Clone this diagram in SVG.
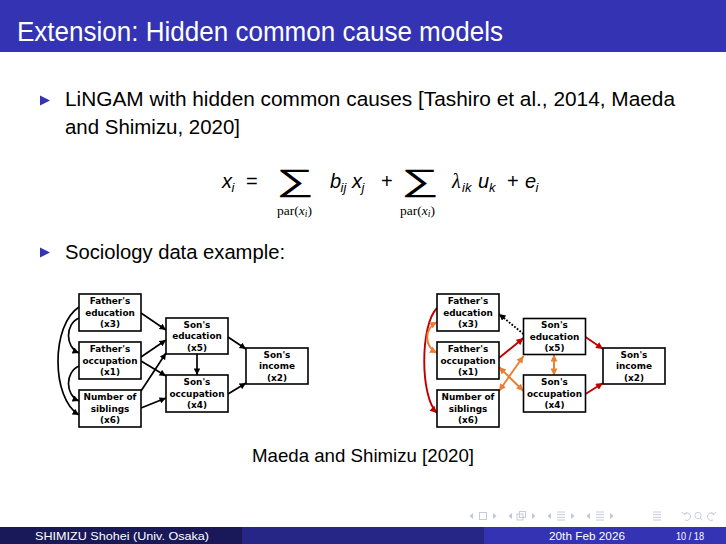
<svg xmlns="http://www.w3.org/2000/svg" width="726" height="544" viewBox="0 0 726 544">
<style>
.sans{font-family:"Liberation Sans","DejaVu Sans",sans-serif}
.ser{font-family:"Liberation Serif","DejaVu Serif",serif}
.node rect{fill:#fff;stroke:#000;stroke-width:1.6}
.node text{font-family:"DejaVu Sans","Liberation Sans",sans-serif;font-weight:bold;font-size:8.9px;text-anchor:middle;fill:#000}
.blk{fill:none;stroke:#000;stroke-width:1.7}
.red{fill:none;stroke:#C00000;stroke-width:1.9}
.org{fill:none;stroke:#ED7D31;stroke-width:1.9}
.nav{fill:none;stroke:#c4c4de;stroke-width:0.9}
.navf{fill:#c4c4de}
.sum{font-family:"DejaVu Sans",sans-serif;font-weight:200;font-size:31px}
</style>
<defs>
<marker id="ab" viewBox="0 0 10 10" refX="10" refY="5" markerWidth="7" markerHeight="6.5" orient="auto-start-reverse" markerUnits="userSpaceOnUse"><path d="M0,0L10,5L0,10z" fill="#000"/></marker>
<marker id="ar" viewBox="0 0 10 10" refX="10" refY="5" markerWidth="7.5" markerHeight="7" orient="auto-start-reverse" markerUnits="userSpaceOnUse"><path d="M0,0L10,5L0,10z" fill="#C00000"/></marker>
<marker id="ao" viewBox="0 0 10 10" refX="10" refY="5" markerWidth="7.5" markerHeight="7" orient="auto-start-reverse" markerUnits="userSpaceOnUse"><path d="M0,0L10,5L0,10z" fill="#ED7D31"/></marker>
</defs>
<rect x="0" y="0" width="726" height="544" fill="#fff"/>
<!-- title bar -->
<rect x="0" y="0" width="726" height="52" fill="#3333B3"/>
<text class="sans" x="17" y="41" font-size="27" fill="#fff" textLength="486" lengthAdjust="spacingAndGlyphs">Extension: Hidden common cause models</text>
<!-- bullets -->
<polygon points="40,95.5 50,100.5 40,105.5" fill="#3333B3"/>
<text class="sans" x="65" y="106" font-size="20.5" fill="#000" textLength="610" lengthAdjust="spacingAndGlyphs">LiNGAM with hidden common causes [Tashiro et al., 2014, Maeda</text>
<text class="sans" x="65" y="134" font-size="20.5" fill="#000" textLength="175" lengthAdjust="spacingAndGlyphs">and Shimizu, 2020]</text>
<!-- equation -->
<g id="equation" fill="#000">
<text class="sans" font-size="20" font-style="italic" x="222" y="188">x</text>
<text class="sans" font-size="13" font-style="italic" x="231.5" y="192">i</text>
<text class="sans" font-size="20" x="246" y="188">=</text>
<text class="sum" x="276" y="191" textLength="38" lengthAdjust="spacingAndGlyphs">∑</text>
<text class="ser" font-size="13.5" x="277" y="215">par(<tspan font-style="italic">x</tspan><tspan font-style="italic" font-size="9.5" dy="2">i</tspan><tspan dy="-2">)</tspan></text>
<text class="sans" font-size="20" font-style="italic" x="330" y="188">b</text>
<text class="sans" font-size="13" font-style="italic" x="340.5" y="192">ij</text>
<text class="sans" font-size="20" font-style="italic" x="352" y="188">x</text>
<text class="sans" font-size="13" font-style="italic" x="361.5" y="192">j</text>
<text class="sans" font-size="20" x="381" y="188">+</text>
<text class="sum" x="401" y="191" textLength="38" lengthAdjust="spacingAndGlyphs">∑</text>
<text class="ser" font-size="13.5" x="400" y="215">par(<tspan font-style="italic">x</tspan><tspan font-style="italic" font-size="9.5" dy="2">i</tspan><tspan dy="-2">)</tspan></text>
<text class="ser" font-size="20" font-style="italic" x="452" y="188">λ</text>
<text class="sans" font-size="13" font-style="italic" x="462" y="192">ik</text>
<text class="sans" font-size="20" font-style="italic" x="478" y="188">u</text>
<text class="sans" font-size="13" font-style="italic" x="489" y="192">k</text>
<text class="sans" font-size="20" x="507" y="188">+</text>
<text class="sans" font-size="20" font-style="italic" x="525" y="188">e</text>
<text class="sans" font-size="13" font-style="italic" x="535.5" y="192">i</text>
</g>
<polygon points="40,247.5 50,252.5 40,257.5" fill="#3333B3"/>
<text class="sans" x="65" y="259" font-size="20.5" fill="#000" textLength="220" lengthAdjust="spacingAndGlyphs">Sociology data example:</text>

<!-- connectors -->
<g id="connectors">
<!-- left graph -->
<path class="blk" d="M79,318 C65,324 65,347 79,353" marker-end="url(#ab)"/>
<path class="blk" d="M79,366 C65,372 65,395 79,401" marker-end="url(#ab)"/>
<path class="blk" d="M79,307 C51,325 51,398 79,415" marker-end="url(#ab)"/>
<path class="blk" d="M141,313 L166,330" marker-end="url(#ab)"/>
<path class="blk" d="M141,357 L166,340" marker-end="url(#ab)"/>
<path class="blk" d="M141,361 L166,376" marker-end="url(#ab)"/>
<path class="blk" d="M141,391 L166,353" marker-end="url(#ab)"/>
<path class="blk" d="M141,408 L166,398" marker-end="url(#ab)"/>
<path class="blk" d="M197,354 L197,375" marker-end="url(#ab)"/>
<path class="blk" d="M228,337 L246,349" marker-end="url(#ab)"/>
<path class="blk" d="M228,394 L246,383" marker-end="url(#ab)"/>
<!-- right graph -->
<path class="red" d="M437,308 C420,325 420,397 437,413" marker-end="url(#ar)"/>
<path class="org" d="M437,322 C424,329 424,346 437,353" marker-start="url(#ao)" marker-end="url(#ao)"/>
<path fill="none" stroke="#000" stroke-width="1.9" stroke-dasharray="1.8,1.6" d="M523.5,334 L499,314" marker-end="url(#ab)"/>
<path class="red" d="M499,358 L523.5,338" marker-end="url(#ar)"/>
<path class="org" d="M499,367 L523.5,391" marker-start="url(#ao)" marker-end="url(#ao)"/>
<path class="org" d="M499,391 L523.5,356" marker-start="url(#ao)" marker-end="url(#ao)"/>
<path class="org" d="M554,354.5 L554,375.5" marker-start="url(#ao)" marker-end="url(#ao)"/>
<path class="red" d="M585.5,337 L603,349" marker-end="url(#ar)"/>
<path class="red" d="M585.5,394 L603,383" marker-end="url(#ar)"/>
</g>

<!-- left graph nodes -->
<g id="L_x3" class="node"><rect x="79" y="294" width="62" height="37"/><text x="110" y="304">Father's</text><text x="110" y="315.5">education</text><text x="110" y="327">(x3)</text></g>
<g id="L_x1" class="node"><rect x="79" y="342" width="62" height="37"/><text x="110" y="352">Father's</text><text x="110" y="363.5">occupation</text><text x="110" y="375">(x1)</text></g>
<g id="L_x6" class="node"><rect x="79" y="390" width="62" height="37"/><text x="110" y="400">Number of</text><text x="110" y="411.5">siblings</text><text x="110" y="423">(x6)</text></g>
<g id="L_x5" class="node"><rect x="166" y="318" width="62" height="36"/><text x="197" y="327.5">Son's</text><text x="197" y="339">education</text><text x="197" y="350.5">(x5)</text></g>
<g id="L_x4" class="node"><rect x="166" y="375" width="62" height="37"/><text x="197" y="385">Son's</text><text x="197" y="396.5">occupation</text><text x="197" y="408">(x4)</text></g>
<g id="L_x2" class="node"><rect x="246" y="348" width="62" height="36"/><text x="277" y="357.5">Son's</text><text x="277" y="369">income</text><text x="277" y="380.5">(x2)</text></g>
<!-- right graph nodes -->
<g id="R_x3" class="node"><rect x="437" y="294" width="62" height="37"/><text x="468" y="304">Father's</text><text x="468" y="315.5">education</text><text x="468" y="327">(x3)</text></g>
<g id="R_x1" class="node"><rect x="437" y="342" width="62" height="37"/><text x="468" y="352">Father's</text><text x="468" y="363.5">occupation</text><text x="468" y="375">(x1)</text></g>
<g id="R_x6" class="node"><rect x="437" y="390" width="62" height="37"/><text x="468" y="400">Number of</text><text x="468" y="411.5">siblings</text><text x="468" y="423">(x6)</text></g>
<g id="R_x5" class="node"><rect x="523.5" y="318.5" width="62" height="36"/><text x="554.5" y="328">Son's</text><text x="554.5" y="339.5">education</text><text x="554.5" y="351">(x5)</text></g>
<g id="R_x4" class="node"><rect x="523.5" y="375" width="62" height="37"/><text x="554.5" y="385">Son's</text><text x="554.5" y="396.5">occupation</text><text x="554.5" y="408">(x4)</text></g>
<g id="R_x2" class="node"><rect x="603" y="348" width="62" height="36"/><text x="634" y="357.5">Son's</text><text x="634" y="369">income</text><text x="634" y="380.5">(x2)</text></g>

<text class="sans" x="252" y="462" font-size="18.5" fill="#000" textLength="222" lengthAdjust="spacingAndGlyphs">Maeda and Shimizu [2020]</text>

<!-- nav symbols -->
<g id="nav">
<path class="navf" d="M473,513 L469.5,516 L473,519z"/>
<rect class="nav" x="479.5" y="512.5" width="7" height="7"/>
<path class="navf" d="M493,513 L496.5,516 L493,519z"/>
<path class="navf" d="M512,513 L508.5,516 L512,519z"/>
<rect class="nav" x="517" y="514" width="6" height="6"/><rect class="nav" x="519.5" y="511.5" width="6" height="6"/>
<path class="navf" d="M532,513 L535.5,516 L532,519z"/>
<path class="navf" d="M551,513 L547.5,516 L551,519z"/>
<path class="nav" d="M557,512 H565 M557,514.6 H565 M557,517.3 H565 M557,520 H565"/>
<path class="navf" d="M571,513 L574.5,516 L571,519z"/>
<path class="navf" d="M590,513 L586.5,516 L590,519z"/>
<path class="nav" d="M596,512 H604 M596,514.6 H604 M596,517.3 H604 M596,520 H604"/>
<path class="navf" d="M610,513 L613.5,516 L610,519z"/>
<path class="nav" d="M653,512 H661 M653,514.6 H661 M653,517.3 H661 M653,520 H661"/>
<path class="nav" d="M684,514 A3.8,3.8 0 1 1 685,520 M682,512 L684,514.5 L687,513"/>
<circle class="nav" cx="698" cy="515.5" r="3.2"/><path class="nav" d="M700.3,518 L702.5,520.3"/>
<path class="nav" d="M714,514 A3.8,3.8 0 1 0 713,520 M716,512 L714,514.5 L711,513"/>
</g>

<!-- footer -->
<rect x="0" y="527" width="242" height="17" fill="#191959"/>
<rect x="242" y="527" width="242" height="17" fill="#262686"/>
<rect x="484" y="527" width="242" height="17" fill="#3333B3"/>
<text class="sans" x="35" y="539.5" font-size="10.5" fill="#fff" textLength="174" lengthAdjust="spacingAndGlyphs">SHIMIZU Shohei (Univ. Osaka)</text>
<text class="sans" x="549" y="539.5" font-size="10.5" fill="#fff" textLength="76" lengthAdjust="spacingAndGlyphs">20th Feb 2026</text>
<text class="sans" x="676" y="539.5" font-size="10.5" fill="#fff" textLength="28" lengthAdjust="spacingAndGlyphs">10 / 18</text>
</svg>
